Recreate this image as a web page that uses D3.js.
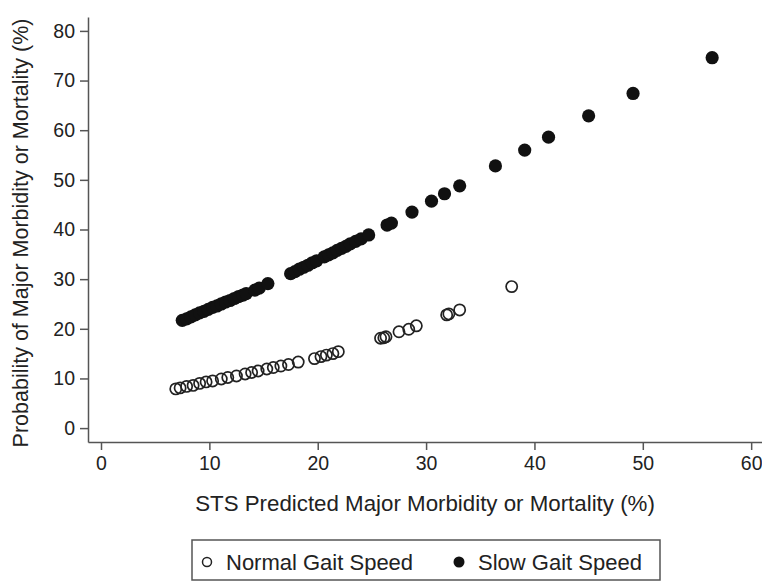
<!DOCTYPE html>
<html>
<head>
<meta charset="utf-8">
<script src="https://cdn.jsdelivr.net/npm/d3@7"></script>
<style>
  body { margin: 0; background: #fff; }
  text { font-family: "Liberation Sans", Arial, sans-serif; fill: #222; }
</style>
</head>
<body>
<script>
// STS predicted risk (%) and modelled probability (%) - normal gait speed
var normalX = [6.9, 7.3, 7.9, 8.5, 9.1, 9.7, 10.3, 11.1, 11.7, 12.5, 13.3, 13.9, 14.5, 15.3, 15.9, 16.6, 17.3,
               18.2, 19.7, 20.3, 20.8, 21.4, 21.9,
               25.8, 26.1, 26.3, 27.5, 28.4, 29.1, 31.9, 32.1, 33.1, 37.9];
var normalY = [7.9, 8.1, 8.4, 8.6, 9.0, 9.3, 9.5, 9.9, 10.2, 10.5, 10.9, 11.2, 11.5, 11.9, 12.2, 12.5, 12.8,
               13.3, 14.0, 14.4, 14.7, 15.0, 15.4,
               18.1, 18.2, 18.4, 19.4, 19.9, 20.6, 22.8, 23.0, 23.8, 28.5];

// slow gait speed
var slowX = [7.5, 7.9, 8.3, 8.7, 9.1, 9.5, 9.9, 10.3, 10.7, 11.1, 11.5, 11.9, 12.3, 12.7, 13.1, 13.4,
             14.2, 14.6, 15.4,
             17.5, 17.9, 18.3, 18.7, 19.1, 19.5, 19.9, 20.6, 21.0, 21.4, 21.8, 22.2, 22.6, 23.0, 23.5, 24.0, 24.7,
             26.4, 26.8, 28.7, 30.5, 31.7, 33.1, 36.4, 39.1, 41.3, 45.0, 49.1, 56.4];
var slowY = [21.7, 22.0, 22.4, 22.8, 23.2, 23.5, 23.9, 24.3, 24.6, 25.0, 25.4, 25.7, 26.1, 26.5, 26.8, 27.1,
             27.8, 28.2, 29.1,
             31.1, 31.5, 32.0, 32.4, 32.8, 33.3, 33.7, 34.5, 34.9, 35.3, 35.8, 36.2, 36.6, 37.1, 37.6, 38.1, 38.9,
             40.9, 41.3, 43.5, 45.7, 47.2, 48.8, 52.8, 56.0, 58.6, 62.9, 67.4, 74.6];

var xTicks = [0, 10, 20, 30, 40, 50, 60];
var yTicks = [0, 10, 20, 30, 40, 50, 60, 70, 80];
var legendLabels = ["Normal Gait Speed", "Slow Gait Speed"];

window.onload = function() {
    var svg = d3.select("body").append("svg")
        .attr("width", 762)
        .attr("height", 581);

    // scales, domains stretched past the ticks like the original
    var x = d3.scaleLinear().domain([-1.2, 61]).range([88, 762]);
    var y = d3.scaleLinear().domain([-2.8, 82.8]).range([442, 17]);

    svg.append("g")
        .attr("transform", "translate(0,442)")
        .call(d3.axisBottom(x).tickValues(xTicks).tickSize(8).tickPadding(6).tickSizeOuter(0));

    svg.append("g")
        .attr("transform", "translate(88,0)")
        .call(d3.axisLeft(y).tickValues(yTicks).tickSize(8).tickPadding(5).tickSizeOuter(0));

    svg.selectAll(".domain, .tick line")
        .attr("stroke", "#555")
        .attr("stroke-width", 1.5);
    svg.selectAll(".tick text")
        .style("font-size", "19.5px")
        .style("font-family", "'Liberation Sans', Arial, sans-serif")
        .attr("fill", "#222");

    // axis titles
    svg.append("text")
        .attr("x", 425)
        .attr("y", 511)
        .attr("text-anchor", "middle")
        .style("font-size", "22.3px")
        .text("STS Predicted Major Morbidity or Mortality (%)");

    svg.append("text")
        .attr("transform", "translate(28,233) rotate(-90)")
        .attr("text-anchor", "middle")
        .style("font-size", "21.5px")
        .text("Probability of Major Morbidity or Mortality (%)");

    // points
    var normal = d3.range(normalX.length);
    var slow = d3.range(slowX.length);

    svg.selectAll(".slow")
        .data(slow)
        .enter()
        .append("circle")
        .attr("class", "slow")
        .attr("cx", function(i) { return x(slowX[i]); })
        .attr("cy", function(i) { return y(slowY[i]); })
        .attr("r", 6.6)
        .attr("fill", "#111");

    svg.selectAll(".normal")
        .data(normal)
        .enter()
        .append("circle")
        .attr("class", "normal")
        .attr("cx", function(i) { return x(normalX[i]); })
        .attr("cy", function(i) { return y(normalY[i]); })
        .attr("r", 5.6)
        .attr("fill", "none")
        .attr("stroke", "#222")
        .attr("stroke-width", 1.7);

    // legend
    var legend = svg.append("g");
    legend.append("rect")
        .attr("x", 192)
        .attr("y", 540)
        .attr("width", 468)
        .attr("height", 40)
        .attr("fill", "none")
        .attr("stroke", "#555")
        .attr("stroke-width", 1.5);

    legend.append("circle")
        .attr("cx", 207).attr("cy", 562).attr("r", 4.5)
        .attr("fill", "none").attr("stroke", "#222").attr("stroke-width", 1.5);
    legend.append("text")
        .attr("x", 226).attr("y", 570)
        .style("font-size", "22px")
        .text(legendLabels[0]);

    legend.append("circle")
        .attr("cx", 459).attr("cy", 562).attr("r", 5.5)
        .attr("fill", "#111");
    legend.append("text")
        .attr("x", 478).attr("y", 570)
        .style("font-size", "22px")
        .text(legendLabels[1]);
}
</script>
</body>
</html>
